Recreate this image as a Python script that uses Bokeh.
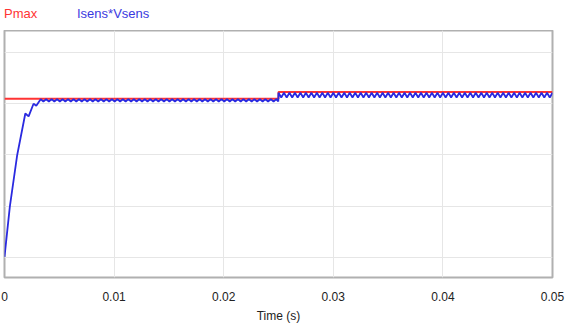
import numpy as np
from bokeh.plotting import figure
from bokeh.layouts import column
from bokeh.models import Range1d, FixedTicker, CustomJSTickFormatter, Div
from bokeh.embed import file_html
from bokeh.resources import INLINE

# ---- data (time in ms, power in arbitrary units) ----
pmax_t_ms = [0.0, 25.0, 25.0, 50.0]
pmax_y = [154.5, 154.5, 161.1, 161.1]

rise_t_ms = [0.0, 0.49, 1.16, 1.9, 2.2, 2.65, 2.9]
rise_y = [1.0, 50.0, 100.0, 140.3, 137.5, 149.8, 147.9]

p1_peak_level = 154.2
p1_trough_level = 151.9
p1_peak_t_ms = [3.3, 3.8, 4.3, 4.8, 5.3, 5.8, 6.3, 6.8, 7.3, 7.8, 8.3, 8.8, 9.3, 9.8,
                10.3, 10.8, 11.3, 11.8, 12.3, 12.8, 13.3, 13.8, 14.3, 14.8, 15.3, 15.8,
                16.3, 16.8, 17.3, 17.8, 18.3, 18.8, 19.3, 19.8, 20.3, 20.8, 21.3, 21.8,
                22.3, 22.8, 23.3, 23.8, 24.3, 24.8]
p1_trough_t_ms = [3.55, 4.05, 4.55, 5.05, 5.55, 6.05, 6.55, 7.05, 7.55, 8.05, 8.55, 9.05,
                  9.55, 10.05, 10.55, 11.05, 11.55, 12.05, 12.55, 13.05, 13.55, 14.05,
                  14.55, 15.05, 15.55, 16.05, 16.55, 17.05, 17.55, 18.05, 18.55, 19.05,
                  19.55, 20.05, 20.55, 21.05, 21.55, 22.05, 22.55, 23.05, 23.55, 24.05,
                  24.55, 24.98]

p2_peak_level = 160.4
p2_trough_level = 155.9
p2_peak_t_ms = [25.0, 25.5, 26.0, 26.5, 27.0, 27.5, 28.0, 28.5, 29.0, 29.5, 30.0, 30.5,
                31.0, 31.5, 32.0, 32.5, 33.0, 33.5, 34.0, 34.5, 35.0, 35.5, 36.0, 36.5,
                37.0, 37.5, 38.0, 38.5, 39.0, 39.5, 40.0, 40.5, 41.0, 41.5, 42.0, 42.5,
                43.0, 43.5, 44.0, 44.5, 45.0, 45.5, 46.0, 46.5, 47.0, 47.5, 48.0, 48.5,
                49.0, 49.5, 50.0]
p2_trough_t_ms = [25.25, 25.75, 26.25, 26.75, 27.25, 27.75, 28.25, 28.75, 29.25, 29.75,
                  30.25, 30.75, 31.25, 31.75, 32.25, 32.75, 33.25, 33.75, 34.25, 34.75,
                  35.25, 35.75, 36.25, 36.75, 37.25, 37.75, 38.25, 38.75, 39.25, 39.75,
                  40.25, 40.75, 41.25, 41.75, 42.25, 42.75, 43.25, 43.75, 44.25, 44.75,
                  45.25, 45.75, 46.25, 46.75, 47.25, 47.75, 48.25, 48.75, 49.25, 49.75]

x_ticks = [0.0, 0.01, 0.02, 0.03, 0.04, 0.05]
y_grid = [0, 50, 100, 150, 200]
legend_names = ["Pmax", "Isens*Vsens"]
legend_colors = ["#ff3333", "#3a3ae0"]

# ---- assemble blue series ----
bt = (list(rise_t_ms) + p1_peak_t_ms + p1_trough_t_ms + p2_peak_t_ms + p2_trough_t_ms)
by = (list(rise_y) + [p1_peak_level] * len(p1_peak_t_ms) + [p1_trough_level] * len(p1_trough_t_ms)
      + [p2_peak_level] * len(p2_peak_t_ms) + [p2_trough_level] * len(p2_trough_t_ms))
order = np.argsort(np.array(bt), kind="stable")
blue_t = np.array(bt)[order] / 1000.0
blue_y = np.array(by)[order]

# ---- legend row (coloured names above the plot) ----
legend_left = [4, 77]
spans = "".join(
    f'<span style="position:absolute;left:{x}px;top:6px;color:{c};">{n}</span>'
    for n, c, x in zip(legend_names, legend_colors, legend_left))
legend_div = Div(
    text=f'<div style="position:relative;width:565px;height:30px;'
         f'font-family:\'Liberation Sans\';font-size:13px;line-height:15px;">{spans}</div>',
    width=565, height=30, margin=(0, 0, 0, 0))

p = figure(width=565, height=295, output_backend="svg", toolbar_location=None,
           x_range=Range1d(0, 0.05), y_range=Range1d(-19.0, 220.9),
           min_border_left=4, min_border_right=13, min_border_top=0, min_border_bottom=42)
p.background_fill_color = "white"
p.border_fill_color = "white"
p.outline_line_color = "#b0b0b0"
p.outline_line_width = 2

p.yaxis.visible = False
ax = p.xaxis[0]
ax.ticker = FixedTicker(ticks=x_ticks)
ax.formatter = CustomJSTickFormatter(code="return tick.toFixed(2).replace(/0+$/, '').replace(/\\.$/, '');")
ax.axis_line_color = None
ax.major_tick_line_color = None
ax.minor_tick_line_color = None
ax.major_label_standoff = 8
ax.major_label_text_font = "Liberation Sans"
ax.major_label_text_font_size = "12px"
ax.major_label_text_color = "#222222"
ax.axis_label = "Time (s)"
ax.axis_label_standoff = 5
ax.axis_label_text_font = "Liberation Sans"
ax.axis_label_text_font_size = "12px"
ax.axis_label_text_font_style = "normal"
ax.axis_label_text_color = "#222222"

p.xgrid.ticker = FixedTicker(ticks=x_ticks)
p.ygrid.ticker = FixedTicker(ticks=y_grid)
p.xgrid.grid_line_color = "#e6e6e6"
p.ygrid.grid_line_color = "#e6e6e6"

p.line(np.array(pmax_t_ms) / 1000.0, pmax_y, line_color=legend_colors[0], line_width=2)
p.line(blue_t, blue_y, line_color="#2a2ae0", line_width=1.8)

layout = column(legend_div, p, spacing=0)
open("out.html", "w").write(file_html(layout, INLINE))
